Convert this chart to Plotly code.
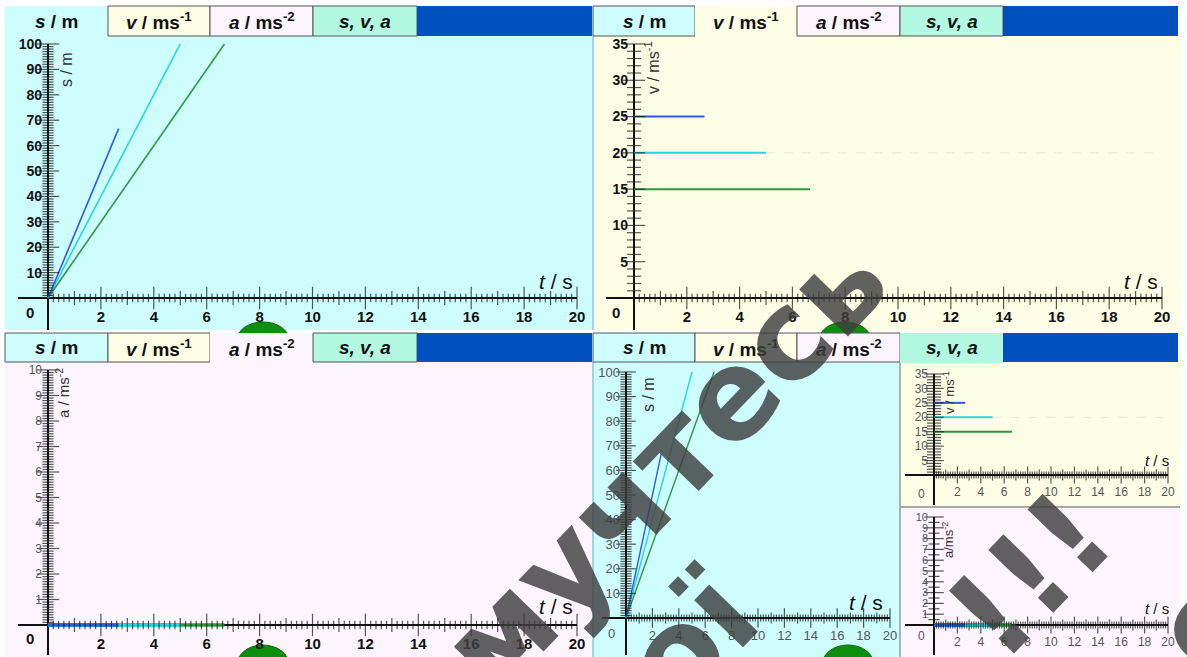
import numpy as np
import plotly.graph_objects as go

W, H = 1187, 657

# ---------------- data ----------------
run_end_t = [2.67, 5.0, 6.67]        # s, time at which each run stops
run_end_s = [66.7, 100.0, 100.0]     # m, distance reached at that time
run_v = [25, 20, 15]                 # m/s, constant velocity of each run
run_a = [0, 0, 0]                    # m/s^2
v_guide = 20                         # faint dashed guide in the v graph
t_ticks = [2, 4, 6, 8, 10, 12, 14, 16, 18, 20]
s_ticks = [10, 20, 30, 40, 50, 60, 70, 80, 90, 100]
v_ticks = [5, 10, 15, 20, 25, 30, 35]
a_ticks = [1, 2, 3, 4, 5, 6, 7, 8, 9, 10]
tab_labels = ["<b><i>s</i> / m</b>", "<b><i>v</i> / ms<sup>-1</sup></b>",
              "<b><i>a</i> / ms<sup>-2</sup></b>", "<b><i>s, v, a</i></b>"]

# ---------------- styles ----------------
FONT = "Liberation Sans, Arial, sans-serif"
S_BG, V_BG, A_BG, SVA_BG, BLUE = "#cdfdfd", "#fefde6", "#fcf5fd", "#b3f9e2", "#0050c0"
TAB_FILLS = [S_BG, V_BG, A_BG, SVA_BG]
COLORS = ["#2a5ce8", "#22d6e2", "#2a9a40"]
AXC = "#111111"

fig = go.Figure()
layout = {}
shapes = []
annotations = []


def X(px):
    return px / W


def Y(py):
    return 1 - py / H


def ann(text, px, py, size, color="#111", angle=0, family=FONT, xanchor="center", yanchor="middle"):
    annotations.append(dict(text=text, x=X(px), y=Y(py), xref="paper", yref="paper", showarrow=False,
                            font=dict(size=size, color=color, family=family), textangle=angle,
                            xanchor=xanchor, yanchor=yanchor))


def rect(x0, y0, x1, y1, fill, line_color=None, lw=0, kind="rect"):
    shapes.append(dict(type=kind, xref="paper", yref="paper", x0=X(x0), x1=X(x1), y0=Y(y1), y1=Y(y0),
                       fillcolor=fill, line=dict(color=line_color or fill, width=lw), layer="below"))


def hline(x0, x1, y, color, lw):
    shapes.append(dict(type="line", xref="paper", yref="paper", x0=X(x0), x1=X(x1), y0=Y(y), y1=Y(y),
                       line=dict(color=color, width=lw), layer="below"))


def vline(x, y0, y1, color, lw):
    shapes.append(dict(type="line", xref="paper", yref="paper", x0=X(x), x1=X(x), y0=Y(y0), y1=Y(y1),
                       line=dict(color=color, width=lw), layer="below"))


# ---------------- panel backgrounds ----------------
rect(5, 36, 592, 330, S_BG)
rect(593, 36, 1180, 330, V_BG)
rect(5, 362, 592, 657, A_BG)
rect(593, 362, 900, 657, S_BG)
rect(900, 362, 1180, 507, V_BG)
rect(900, 507, 1180, 657, A_BG)
vline(593, 36, 330, "#9fd6e6", 2)
vline(593, 362, 657, "#9fd6e6", 2)
vline(900, 362, 657, "#9a9a9a", 1.5)
hline(900, 1180, 507, "#a8a8a8", 2)

# green slider domes (partly hidden by tabs / edge)
for cx, cy0, cy1 in [(263, 322, 358), (845, 322, 358), (263, 645, 685), (848, 645, 685)]:
    rect(cx - 26, cy0, cx + 26, cy1, "#0d8f0d", "#076a07", 1, kind="circle")

# ---------------- tabs ----------------
left_edges = [5, 108, 210, 313, 417, 592]
right_edges = [593, 695, 797, 900, 1003, 1178]
for edges, (ty0, ty1), active in [(left_edges, (6, 36), 0), (right_edges, (6, 36), 1),
                                   (left_edges, (333, 362), 2), (right_edges, (333, 362), 3)]:
    for i in range(4):
        if i == active:
            rect(edges[i], ty0, edges[i + 1], ty1 + 1, TAB_FILLS[i])
        else:
            rect(edges[i], ty0, edges[i + 1], ty1, TAB_FILLS[i], "#555555", 1)
        ann(tab_labels[i], (edges[i] + edges[i + 1]) / 2, (ty0 + ty1) / 2, 19, "#111")
    rect(edges[4], ty0, edges[5], ty1, BLUE)

# ---------------- graphs ----------------
plots = [
    dict(kind="s", X0=48, X20=577, Y0=298, Ytop=44, ymax=100, left=18, bottom=330,
         yt=s_ticks, ymajor=10, yminor=1, ylens=(8, 16), xlens=(6, 10, 16),
         xfont=dict(size=15, color="#111", family=FONT), yfont=dict(size=14, color="#111", family=FONT),
         bold=True, title="s / m", tpos=(66, 70), tsize=16, tlab=(556, 281), tlsize=21, zero=(30, 312), zsize=15,
         lw=1.6),
    dict(kind="v", X0=634, X20=1162, Y0=298, Ytop=44, ymax=35, left=606, bottom=330,
         yt=v_ticks, ymajor=5, yminor=1, ylens=(10, 16), xlens=(6, 10, 16),
         xfont=dict(size=15, color="#111", family=FONT), yfont=dict(size=14, color="#111", family=FONT),
         bold=True, title="v / ms<sup>-1</sup>", tpos=(652, 68), tsize=16, tlab=(1141, 281), tlsize=21,
         zero=(616, 312), zsize=15, lw=2),
    dict(kind="a", X0=48, X20=577, Y0=625, Ytop=370, ymax=10, left=18, bottom=655,
         yt=a_ticks, ymajor=1, yminor=0.1, ylens=(8, 16), xlens=(6, 10, 16),
         xfont=dict(size=15, color="#111", family=FONT), yfont=dict(size=12, color="#555", family=FONT),
         bold=False, xbold=True, title="a / ms<sup>-2</sup>", tpos=(62, 393), tsize=15, tlab=(556, 606), tlsize=21,
         zero=(30, 638), zsize=15, lw=3.5),
    dict(kind="s", X0=626, X20=890, Y0=618, Ytop=372, ymax=100, left=602, bottom=655,
         yt=s_ticks, ymajor=10, yminor=1, ylens=(8, 14), xlens=(5, 8, 14),
         xfont=dict(size=13, color="#555", family=FONT), yfont=dict(size=13, color="#555", family=FONT),
         bold=False, title="s / m", tpos=(648, 395), tsize=16, tlab=(866, 602), tlsize=21,
         zero=(612, 633), zsize=13, lw=1.4),
    dict(kind="v", X0=934, X20=1168, Y0=475, Ytop=374, ymax=35, left=905, bottom=505,
         yt=v_ticks, ymajor=5, yminor=1, ylens=(10, 14), xlens=(5, 8, 12),
         xfont=dict(size=12, color="#555", family=FONT), yfont=dict(size=12, color="#555", family=FONT),
         bold=False, title="v / ms<sup>-1</sup>", tpos=(949, 393), tsize=13, tlab=(1157, 460), tlsize=15,
         zero=(921, 494), zsize=12, lw=2),
    dict(kind="a", X0=934, X20=1168, Y0=625, Ytop=517, ymax=10, left=905, bottom=655,
         yt=a_ticks, ymajor=1, yminor=0.5, ylens=(8, 14), xlens=(5, 8, 12),
         xfont=dict(size=12, color="#555", family=FONT), yfont=dict(size=11, color="#555", family=FONT),
         bold=False, title="a/ms<sup>-2</sup>", tpos=(948, 540), tsize=13, tlab=(1157, 608), tlsize=15,
         zero=(921, 636), zsize=12, lw=3.5),
]


def fmt(vals, bold):
    return [f"<b>{v}</b>" if bold else str(v) for v in vals]


for k, p in enumerate(plots, start=1):
    sfx = "" if k == 1 else str(k)
    xa, ya = "x" + sfx, "y" + sfx
    kx = (p["X20"] - p["X0"]) / 20.0
    ky = (p["Y0"] - p["Ytop"]) / p["ymax"]
    xr = [(p["left"] - p["X0"]) / kx, 20.0]
    yr = [-(p["bottom"] - p["Y0"]) / ky, p["ymax"]]
    common = dict(showgrid=False, showline=False, ticks="", zeroline=True, zerolinecolor=AXC,
                  zerolinewidth=1.6, fixedrange=True, anchor="free", tickmode="array", automargin=False)
    layout["xaxis" + sfx] = dict(common, domain=[X(p["left"]), X(p["X20"])], range=xr,
                                 position=Y(p["Y0"]), tickvals=t_ticks,
                                 ticktext=fmt(t_ticks, p.get("xbold", p["bold"])),
                                 tickfont=p["xfont"], ticklabelstandoff=8)
    layout["yaxis" + sfx] = dict(common, domain=[Y(p["bottom"]), Y(p["Ytop"])], range=yr,
                                 position=X(p["X0"]), tickvals=p["yt"], ticktext=fmt(p["yt"], p["bold"]),
                                 tickfont=p["yfont"], ticklabelstandoff=6)

    # data lines
    if p["kind"] == "s":
        for i in [2, 1, 0]:
            fig.add_trace(go.Scatter(x=[0, run_end_t[i]], y=[0, run_end_s[i]], mode="lines",
                                     line=dict(color=COLORS[i], width=p["lw"]), xaxis=xa, yaxis=ya,
                                     hoverinfo="skip"))
    elif p["kind"] == "v":
        fig.add_trace(go.Scatter(x=[run_end_t[1], 20], y=[v_guide, v_guide], mode="lines",
                                 line=dict(color="#e6e6d6", width=1, dash="dash"), xaxis=xa, yaxis=ya,
                                 hoverinfo="skip"))
        for i in [2, 1, 0]:
            fig.add_trace(go.Scatter(x=[0, run_end_t[i]], y=[run_v[i], run_v[i]], mode="lines",
                                     line=dict(color=COLORS[i], width=p["lw"]), xaxis=xa, yaxis=ya,
                                     hoverinfo="skip"))
    else:
        for i in [2, 1, 0]:
            fig.add_trace(go.Scatter(x=[0, run_end_t[i]], y=[run_a[i], run_a[i]], mode="lines",
                                     line=dict(color=COLORS[i], width=p["lw"]), xaxis=xa, yaxis=ya,
                                     hoverinfo="skip"))

    # crossing tick marks along the time axis (minor 0.2, medium 1, major 2)
    n = np.arange(1, 101)
    tpos = n * 0.2
    tsz = np.full(n.shape, p["xlens"][0], dtype=float)
    tsz[n % 5 == 0] = p["xlens"][1]
    tsz[n % 10 == 0] = p["xlens"][2]
    fig.add_trace(go.Scatter(x=tpos, y=np.zeros_like(tpos), mode="markers", xaxis=xa, yaxis=ya,
                             marker=dict(symbol="line-ns", size=tsz, color=AXC, line=dict(width=1.2, color=AXC)),
                             cliponaxis=False, hoverinfo="skip"))
    # crossing tick marks along the vertical axis
    nmax = int(round(p["ymax"] / p["yminor"]))
    m = np.arange(1, nmax + 1)
    ypos = m * p["yminor"]
    ratio = int(round(p["ymajor"] / p["yminor"]))
    ysz = np.full(m.shape, p["ylens"][0], dtype=float)
    ysz[m % ratio == 0] = p["ylens"][1]
    fig.add_trace(go.Scatter(x=np.zeros_like(ypos), y=ypos, mode="markers", xaxis=xa, yaxis=ya,
                             marker=dict(symbol="line-ew", size=ysz, color=AXC, line=dict(width=1.2, color=AXC)),
                             cliponaxis=False, hoverinfo="skip"))

    # axis titles and origin label
    ann(p["title"], p["tpos"][0], p["tpos"][1], p["tsize"], "#333", angle=-90)
    ann("<i>t</i> / s", p["tlab"][0], p["tlab"][1], p["tlsize"], "#111")
    ann("<b>0</b>" if p.get("xbold", p["bold"]) else "0", p["zero"][0], p["zero"][1], p["zsize"],
        p["xfont"]["color"])

# ---------------- watermark ----------------
WM = "DejaVu Sans, sans-serif"
WMC = "rgba(62,62,62,0.82)"
ann("<b>мучтесь</b>", 664, 465, 124, WMC, angle=-46, family=WM)
ann("<b>ої</b>", 690, 640, 124, WMC, angle=-46, family=WM)
ann("<b>!!!</b>", 1030, 575, 124, WMC, angle=-46, family=WM)
ann("<b>о</b>", 1205, 622, 124, WMC, angle=-46, family=WM)

fig.update_layout(width=W, height=H, autosize=False,
                  margin=dict(l=0, r=0, t=0, b=0, pad=0, autoexpand=False), paper_bgcolor="white",
                  plot_bgcolor="rgba(0,0,0,0)", showlegend=False, shapes=shapes, annotations=annotations,
                  **layout)
fig.write_html("out.html", config={"displayModeBar": False, "responsive": False},
               post_script="document.body.style.margin='0px';document.body.style.overflow='hidden';")
